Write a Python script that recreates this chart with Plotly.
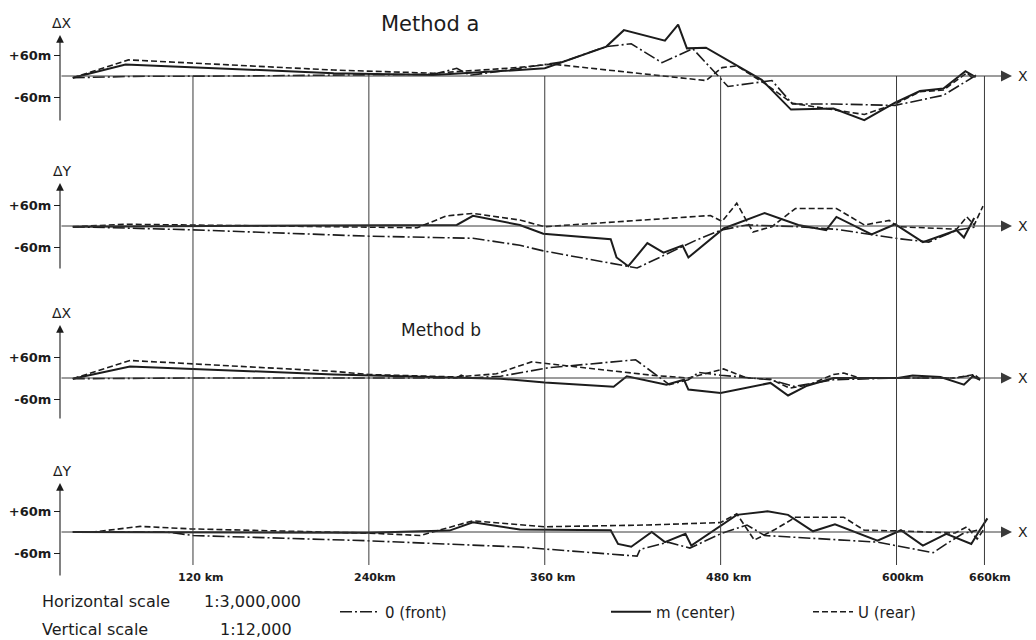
import plotly.graph_objects as go

# ---------------- data (x in km, deviation in metres) ----------------
# Method a, ΔX
a_dx_front_km = [38, 80, 150, 215, 284, 300, 309, 330, 372, 402, 419, 440, 461, 485, 515, 529, 557, 599, 632, 655]
a_dx_front_m = [-5, -1, 0, 3, 5, 22, 2, 14, 40, 84, 92, 38, 78, -30, -13, -80, -80, -84, -55, 4]
a_dx_center_km = [38, 74, 216, 284, 330, 360, 402, 414, 442, 451, 457, 470, 508, 528, 557, 578, 599, 616, 632, 647, 654]
a_dx_center_m = [-5, 33, 8, 3, 14, 22, 84, 131, 101, 147, 79, 81, -11, -96, -93, -126, -76, -43, -36, 14, -3]
a_dx_rear_km = [38, 76, 216, 284, 341, 365, 470, 481, 491, 510, 529, 578, 599, 616, 632, 648, 653]
a_dx_rear_m = [-5, 46, 17, 8, 24, 34, -13, 24, 29, -21, -78, -110, -80, -45, -40, 9, -11]

# Method a, ΔY
a_dy_front_km = [38, 120, 239, 311, 343, 359, 423, 463, 480, 498, 533, 560, 601, 622, 641, 655]
a_dy_front_m = [-2, -11, -29, -35, -55, -71, -120, -41, -12, 3, -2, -10, -36, -46, -12, -2]
a_dy_center_km = [38, 300, 311, 343, 359, 405, 409, 417, 430, 441, 454, 458, 482, 510, 533, 552, 559, 583, 599, 618, 641, 646, 653]
a_dy_center_m = [-2, 3, 29, 3, -22, -38, -90, -115, -49, -76, -56, -90, -7, 37, 3, -12, 26, -24, 5, -46, -12, -33, 23]
a_dy_rear_km = [38, 75, 273, 293, 311, 343, 360, 473, 481, 491, 502, 515, 531, 559, 578, 595, 601, 641, 648, 653, 659]
a_dy_rear_m = [-2, 5, -5, 29, 36, 17, -2, 30, 13, 65, -17, -2, 50, 50, 3, 16, -2, -9, 26, 3, 57]

# Method b, ΔX
b_dx_front_km = [38, 120, 240, 300, 303, 308, 330, 362, 422, 445, 458, 465, 480, 514, 530, 557, 600, 640, 652, 657]
b_dx_front_m = [-2, 0, 0, 0, 8, 0, 5, 29, 52, -19, -5, 16, 8, -5, -24, -5, 0, 0, 8, -5]
b_dx_center_km = [38, 77, 216, 300, 330, 360, 407, 416, 443, 455, 458, 480, 514, 526, 539, 557, 601, 611, 630, 646, 652, 657]
b_dx_center_m = [-2, 33, 10, 2, -2, -13, -25, 5, -19, -5, -33, -43, -14, -50, -22, 0, 0, 7, 3, -19, 5, -5]
b_dx_rear_km = [38, 77, 216, 240, 300, 327, 343, 351, 435, 458, 482, 498, 514, 527, 540, 557, 564, 575, 600, 640, 653, 657]
b_dx_rear_m = [-2, 50, 19, 10, 3, 12, 35, 46, 7, 0, 26, 0, -3, -29, -20, 10, 14, 0, 0, 0, 10, -3]

# Method b, ΔY
b_dy_front_km = [38, 102, 120, 239, 343, 423, 425, 444, 459, 480, 498, 510, 587, 625, 634, 645, 655]
b_dy_front_m = [0, 0, -10, -25, -43, -69, -50, -29, -46, -5, 20, -10, -29, -59, -34, -5, 5]
b_dy_center_km = [38, 239, 295, 311, 343, 405, 410, 419, 433, 442, 456, 460, 491, 512, 526, 543, 558, 587, 603, 618, 634, 651, 656, 662]
b_dy_center_m = [0, -2, 4, 28, 7, 5, -34, -42, 0, -29, -5, -39, 49, 59, 49, 2, 22, -25, 5, -39, -5, -34, 0, 39]
b_dy_rear_km = [38, 52, 84, 118, 239, 275, 311, 343, 360, 430, 480, 491, 503, 517, 531, 564, 578, 602, 640, 648, 655, 660]
b_dy_rear_m = [0, 0, 16, 9, -3, -10, 32, 21, 15, 20, 27, 52, -23, 7, 42, 42, 5, 3, -3, 15, -20, 10]

grid_km = [120, 240, 360, 480, 600, 660]
grid_labels = ["120 km", "240km", "360 km", "480 km", "600km", "660km"]
panel_labels = ["ΔX", "ΔY", "ΔX", "ΔY"]
series_names = ["0 (front)", "m (center)", "U (rear)"]

# ---------------- geometry ----------------
W, H = 1036, 640
PX0, PX_PER_KM = 17.1, 1.4657          # horizontal scale
M_PER_PX = 60 / 21.0                    # vertical scale
zero_px = [76, 226, 378, 532]           # zero line of each panel (px from top)
axis_span = [(35, 122), (183, 270), (325, 420), (483, 577)]
INK = "#1c1c1c"
FONT = "DejaVu Sans"

def km_at(px):
    return (px - PX0) / PX_PER_KM

def py(px):
    return 1 - px / H

fig = go.Figure()

panels = [
    [(a_dx_front_km, a_dx_front_m), (a_dx_center_km, a_dx_center_m), (a_dx_rear_km, a_dx_rear_m)],
    [(a_dy_front_km, a_dy_front_m), (a_dy_center_km, a_dy_center_m), (a_dy_rear_km, a_dy_rear_m)],
    [(b_dx_front_km, b_dx_front_m), (b_dx_center_km, b_dx_center_m), (b_dx_rear_km, b_dx_rear_m)],
    [(b_dy_front_km, b_dy_front_m), (b_dy_center_km, b_dy_center_m), (b_dy_rear_km, b_dy_rear_m)],
]
styles = [
    dict(color=INK, width=1.6, dash="12px,3px,2px,3px"),
    dict(color=INK, width=2.0, dash="solid"),
    dict(color=INK, width=1.6, dash="6px,3px"),
]
legends = ["legend", "legend2", "legend3"]

for p, series in enumerate(panels):
    yname = "y" if p == 0 else f"y{p+1}"
    for s, (xs, ys) in enumerate(series):
        fig.add_trace(go.Scatter(
            x=xs, y=ys, mode="lines", yaxis=yname, line=styles[s],
            name=series_names[s], legendgroup=series_names[s],
            showlegend=(p == 0), legend=legends[s], hoverinfo="skip",
        ))

# y axes: all full height, scaled so that 60 m = 21 px
for p in range(4):
    z = zero_px[p]
    ax = dict(
        domain=[0, 1], range=[-(H - z) * M_PER_PX, z * M_PER_PX],
        tickvals=[-60, 60], ticktext=["-60m", "+60m"],
        ticks="outside", ticklen=6, tickwidth=1, tickcolor=INK,
        showgrid=False, zeroline=False, showline=False,
        anchor="free", position=60 / W, fixedrange=True,
        tickfont=dict(family=FONT, size=13, color=INK, weight="bold"),
    )
    if p > 0:
        ax["overlaying"] = "y"
    fig.update_layout(**{("yaxis" if p == 0 else f"yaxis{p+1}"): ax})

fig.update_layout(
    xaxis=dict(domain=[0, 1], range=[km_at(0), km_at(W)], visible=False, fixedrange=True),
)

shapes = []
# vertical grid lines running through all panels
for k in grid_km:
    shapes.append(dict(type="line", xref="x", yref="paper", x0=k, x1=k,
                       y0=py(zero_px[0]), y1=py(565), line=dict(color="#3a3a3a", width=1)))

def text_ann(x, y, text, size, xanchor="center", bold=False, xref="paper", xshift=0):
    font = dict(family=FONT, size=size, color=INK)
    if bold:
        font["weight"] = "bold"
    return dict(xref=xref, yref="paper", x=x, y=y, text=text, showarrow=False,
                xanchor=xanchor, yanchor="middle", xshift=xshift, font=font)

annotations = []
for p in range(4):
    z = zero_px[p]
    # horizontal zero line with arrow toward X
    annotations.append(dict(xref="paper", yref="paper", x=1012 / W, y=py(z), ax=-952, ay=0,
                            axref="pixel", ayref="pixel", text="", showarrow=True,
                            arrowhead=2, arrowsize=2.2, arrowwidth=1, arrowcolor="#3a3a3a"))
    annotations.append(text_ann(1016 / W, py(z), "X", 14, xanchor="left"))
    top, bot = axis_span[p]
    annotations.append(dict(xref="paper", yref="paper", x=60 / W, y=py(top), ax=0, ay=bot - top,
                            axref="pixel", ayref="pixel", text="", showarrow=True,
                            arrowhead=2, arrowsize=1.4, arrowwidth=1.1, arrowcolor=INK))
    annotations.append(text_ann(62 / W, py(top - 12), panel_labels[p], 14))

# km labels
for k, lab in zip(grid_km, grid_labels):
    annotations.append(text_ann(k, py(577), lab, 11, xanchor="left", bold=True, xref="x", xshift=-17))

# titles and scale notes
annotations += [
    text_ann(430 / W, py(24), "Method a", 21),
    text_ann(441 / W, py(330), "Method b", 17),
    text_ann(40 / W, py(601), "Horizontal scale", 16, xanchor="left"),
    text_ann(202 / W, py(601), "1:3,000,000", 16, xanchor="left"),
    text_ann(40 / W, py(629), "Vertical scale", 16, xanchor="left"),
    text_ann(218 / W, py(629), "1:12,000", 16, xanchor="left"),
]

leg_common = dict(orientation="h", yanchor="middle", xanchor="left", bgcolor="rgba(0,0,0,0)",
                  font=dict(family=FONT, size=15, color=INK), itemwidth=40, borderwidth=0)
fig.update_layout(
    legend=dict(x=335 / W, y=py(612), **leg_common),
    legend2=dict(x=606 / W, y=py(612), **leg_common),
    legend3=dict(x=808 / W, y=py(612), **leg_common),
)

fig.update_layout(
    width=W, height=H, margin=dict(l=0, r=0, t=0, b=0, pad=0),
    paper_bgcolor="white", plot_bgcolor="white",
    shapes=shapes, annotations=annotations,
    font=dict(family=FONT, color=INK),
)

fig.write_html("out.html", config={"displayModeBar": False},
               post_script="document.body.style.margin='0';document.body.style.overflow='hidden';")
